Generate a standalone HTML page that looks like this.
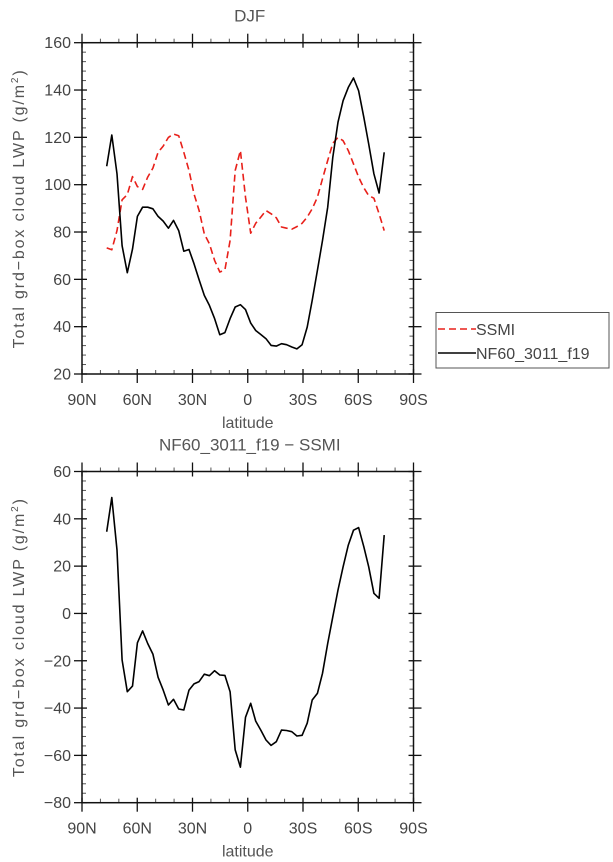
<!DOCTYPE html>
<html><head><meta charset="utf-8"><style>
html,body{margin:0;padding:0;background:#fff;}
svg{display:block;font-family:"Liberation Sans",sans-serif;}
</style></head><body>
<svg id="chart" width="613" height="862" viewBox="0 0 613 862" xmlns="http://www.w3.org/2000/svg"></svg>
<script>
const latitudes = [76.6,73.8,71.0,68.2,65.4,62.6,59.9,57.1,54.3,51.5,48.7,45.9,43.1,40.3,37.5,34.7,31.9,29.2,26.4,23.6,20.8,18.0,15.2,12.4,9.6,6.8,4.0,1.2,-1.6,-4.3,-7.1,-9.9,-12.7,-15.5,-18.3,-21.1,-23.9,-26.7,-29.5,-32.3,-35.0,-37.8,-40.6,-43.4,-46.2,-49.0,-51.8,-54.6,-57.4,-60.2,-63.0,-65.7,-68.5,-71.3,-74.1];
const modelValues = [107.8,121.0,104.6,74.2,62.8,72.8,86.6,90.5,90.5,89.8,86.6,84.6,81.6,84.9,80.6,71.9,72.6,66.6,59.8,53.2,49.0,43.4,36.6,37.5,43.4,48.3,49.3,47.2,41.5,38.4,36.7,34.9,32.1,31.8,32.8,32.4,31.4,30.6,32.4,39.8,51.1,63.8,76.4,90.5,111.6,126.4,135.5,141.1,145.1,139.7,128.5,117.2,104.6,96.5,113.7];
const ssmiValues = [73.3,72.5,80.6,93.6,95.8,103.4,99.2,98.0,103.2,107.0,113.7,116.3,120.0,121.4,120.7,113.7,106.0,96.1,89.1,79.2,75.0,68.0,63.1,64.0,76.4,106.0,114.4,94.7,79.5,83.7,86.3,89.1,87.7,86.0,82.1,81.6,81.2,82.3,83.7,86.3,89.8,94.7,102.5,110.2,117.5,120.0,118.6,114.4,108.8,103.2,98.7,95.4,94.3,87.7,80.6];
const diffValues = [34.5,49.0,26.8,-19.7,-33.1,-30.7,-12.4,-7.4,-12.7,-17.2,-27.0,-32.4,-38.7,-36.3,-40.4,-40.8,-32.4,-29.8,-28.8,-25.7,-26.3,-24.2,-26.0,-26.2,-33.1,-57.7,-65.0,-43.9,-38.0,-45.5,-49.3,-53.5,-55.8,-54.2,-49.3,-49.5,-50.0,-51.8,-51.5,-46.4,-36.6,-33.8,-25.3,-12.7,-1.4,9.9,19.7,28.9,35.2,36.3,28.2,19.7,8.5,6.4,33.1];
const xTickLats = [90,60,30,0,-30,-60,-90];
const xTickLabels = ["90N","60N","30N","0","30S","60S","90S"];
const topYTicks = [20,40,60,80,100,120,140,160];
const botYTicks = [-80,-60,-40,-20,0,20,40,60];

const NS="http://www.w3.org/2000/svg";
const svg=document.getElementById('chart');
function mk(tag,attrs,parent){const e=document.createElementNS(NS,tag);for(const k in attrs)e.setAttribute(k,attrs[k]);(parent||svg).appendChild(e);return e;}
const X0=82,X1=413.5;
function xScale(lat){return X0+(90-lat)/180*(X1-X0);}

function panel(prefix,top,bottom,ymin,ymax,yticks,title){
  const g=mk('g',{});
  
  
  const yScale=v=>bottom-(v-ymin)/(ymax-ymin)*(bottom-top);
  const t=mk('text',{x:(X0+X1)/2+2,y:top-21,'text-anchor':'middle','font-size':17,fill:'#555'},g);
  t.textContent=title;
  
  
  for(let v=ymin;v<=ymax;v+=4){
    const y=yScale(v);
    mk('line',{x1:X0,x2:X0+4,y1:y,y2:y,stroke:'#555','stroke-width':1},g);
    mk('line',{x1:X1-4,x2:X1,y1:y,y2:y,stroke:'#555','stroke-width':1},g);
  }
  yticks.forEach(v=>{
    const y=yScale(v);
    mk('line',{x1:X0-8,x2:X0+5,y1:y,y2:y,stroke:'#111','stroke-width':1.3},g);
    mk('line',{x1:X1-5,x2:X1+8,y1:y,y2:y,stroke:'#111','stroke-width':1.3},g);
    const l=mk('text',{x:X0-11,y:y+5.5,'text-anchor':'end','font-size':16,fill:'#444'},g);
    l.textContent=(v<0?'\u2212':'')+Math.abs(v);
    
    
  });
  for(let lat=80;lat>-90;lat-=10){
    if(lat%30===0)continue;
    const x=xScale(lat);
    mk('line',{x1:x,x2:x,y1:bottom,y2:bottom-4,stroke:'#555','stroke-width':1},g);
    mk('line',{x1:x,x2:x,y1:top,y2:top-4,stroke:'#555','stroke-width':1},g);
  }
  xTickLats.forEach((lat,i)=>{
    const x=xScale(lat);
    mk('line',{x1:x,x2:x,y1:bottom-5,y2:bottom+9,stroke:'#111','stroke-width':1.3},g);
    mk('line',{x1:x,x2:x,y1:top+5,y2:top-9,stroke:'#111','stroke-width':1.3},g);
    const l=mk('text',{x:x,y:bottom+31,'text-anchor':'middle','font-size':16,fill:'#444'},g);
    l.textContent=xTickLabels[i];
    
    
  });
  const fr=mk('rect',{x:X0,y:top,width:X1-X0,height:bottom-top,fill:'none',stroke:'#111','stroke-width':1.5},g);
  
  
  const xl=mk('text',{x:(X0+X1)/2,y:bottom+54,'text-anchor':'middle','font-size':16,fill:'#555'},g);
  xl.textContent='latitude';
  
  
  const cy=(top+bottom)/2+1;
  const yl=mk('text',{x:0,y:0,transform:`translate(24,${cy}) rotate(-90)`,'text-anchor':'middle','font-size':16,fill:'#555',textLength:278,lengthAdjust:'spacing'},g);
  yl.innerHTML='Total grd\u2212box cloud LWP (g/m<tspan dy="-6" font-size="10">2</tspan><tspan dy="6">)</tspan>';
  
  
  return {g,yScale};
}
function line(g,vals,yScale,color,dash,name){
  const d=vals.map((v,i)=>(i?'L':'M')+xScale(latitudes[i]).toFixed(1)+' '+yScale(v).toFixed(1)).join(' ');
  const p=mk('path',{d:d,fill:'none',stroke:color,'stroke-width':1.6,'stroke-dasharray':dash||'none','stroke-linejoin':'round'},g);
  
  
}
const P1=panel('top',42.7,374,20,160,topYTicks,'DJF');
line(P1.g,ssmiValues,P1.yScale,'#e8201a','7,4','ssmi-line');
line(P1.g,modelValues,P1.yScale,'#000','','model-line');
const P2=panel('bottom',471.5,802.7,-80,60,botYTicks,'NF60_3011_f19 \u2212 SSMI');
line(P2.g,diffValues,P2.yScale,'#000','','difference-line');

const lg=mk('g',{});


mk('rect',{x:436,y:312.5,width:173,height:55.5,fill:'#fff',stroke:'#555','stroke-width':1},lg);
mk('line',{x1:438,x2:476,y1:329,y2:329,stroke:'#e8201a','stroke-width':1.6,'stroke-dasharray':'7,4'},lg);
mk('line',{x1:438,x2:476,y1:353,y2:353,stroke:'#000','stroke-width':1.6},lg);
const t1=mk('text',{x:476,y:335,'font-size':16,fill:'#444'},lg);t1.textContent='SSMI';


const t2=mk('text',{x:476,y:359,'font-size':16,fill:'#444'},lg);t2.textContent='NF60_3011_f19';


</script>
</body></html>
